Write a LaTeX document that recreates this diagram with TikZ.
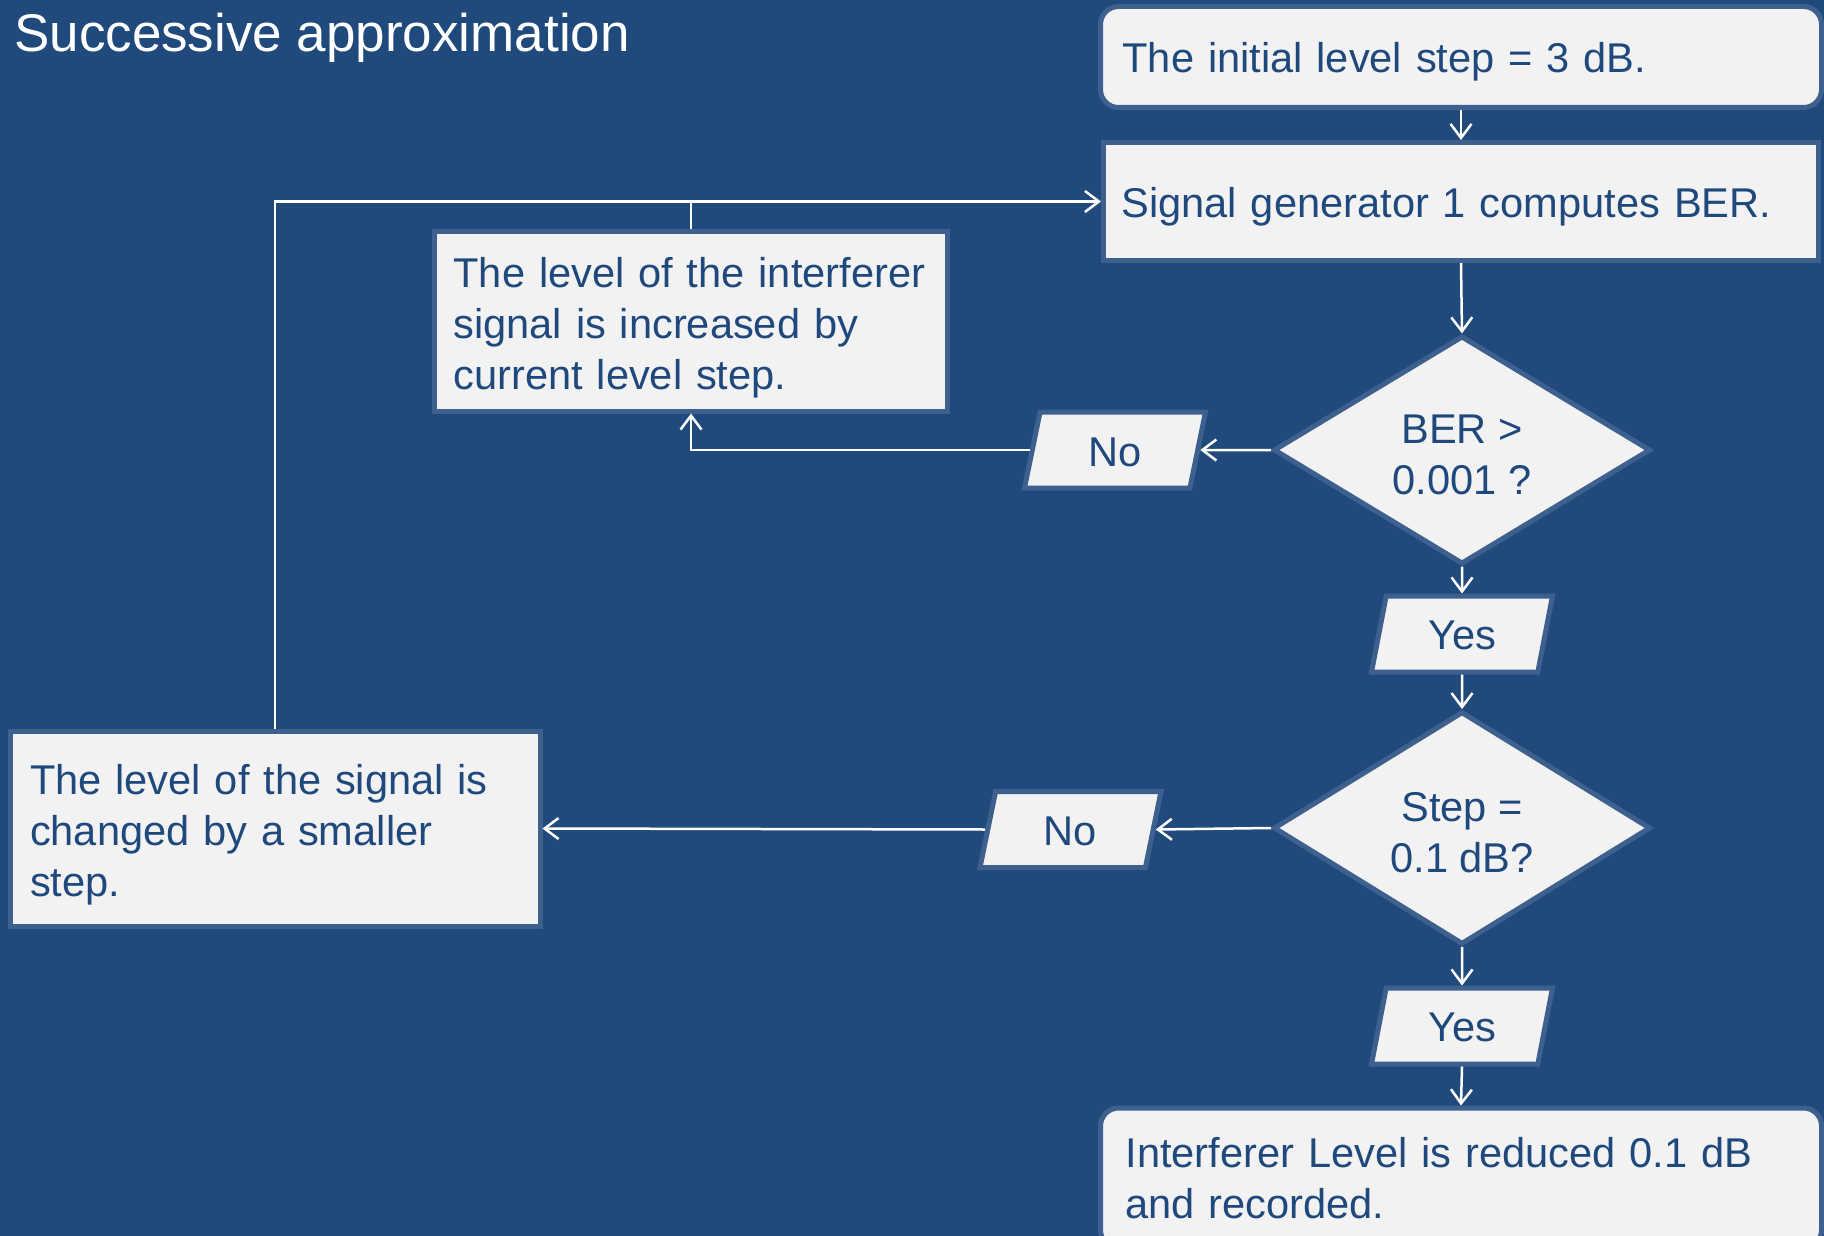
\documentclass[tikz,border=0pt]{standalone}
\usepackage{fontspec}
\setmainfont{Liberation Sans}
\usetikzlibrary{shapes.geometric,arrows.meta}
\definecolor{bgblue}{RGB}{32,74,124}
\definecolor{txtblue}{RGB}{31,73,125}
\definecolor{edgeblue}{RGB}{62,96,142}
\definecolor{boxfill}{RGB}{242,242,242}
\newcommand\toppad[1]{\rule{0pt}{#1}}
\begin{document}
\begin{tikzpicture}[x=1pt,y=-1pt,
  base/.style={draw=edgeblue, line width=5pt, fill=boxfill, text=txtblue, font=\fontsize{41.6}{51}\selectfont},
  procbox/.style={base, rectangle, align=left, inner ysep=0pt},
  roundbox/.style={procbox, rounded corners=18pt},
  decision/.style={base, diamond, align=center, inner sep=0pt, minimum width=377pt, minimum height=228pt},
  answer/.style={base, trapezium, trapezium left angle=65, trapezium right angle=115, trapezium stretches body, minimum width=181pt, minimum height=76pt, inner sep=0pt},
  conn/.style={draw=white, line width=2.5pt, -{Straight Barb[length=14pt,width=21pt]}},
  plainline/.style={draw=white, line width=2.5pt}]
\fill[bgblue] (0,0) rectangle (1824,1236);
\useasboundingbox (0,0) rectangle (1824,1236);

\node[anchor=base west, text=white, font=\fontsize{53}{60}\selectfont, inner sep=0pt] (title) at (14,52) {Successive approximation};

\node[roundbox, minimum width=721pt, minimum height=101pt, inner xsep=22pt, text width=677pt] (b1) at (1461,57) {\toppad{40pt}The initial level step = 3 dB.};
\node[procbox, minimum width=715pt, minimum height=118pt, inner xsep=18pt, text width=679pt] (b2) at (1461,201.5) {\toppad{40pt}Signal generator 1 computes BER.};
\node[decision] (d1) at (1462,450) {\toppad{38pt}BER >\\0.001 ?};
\node[answer] (no1) at (1115,450) {\toppad{33pt}No};
\node[procbox, minimum width=513pt, minimum height=180pt, inner xsep=19pt, text width=475pt] (b3) at (691,321) {\toppad{44pt}The level of the interferer\\signal is increased by\\current level step.};
\node[answer] (yes1) at (1462,634) {\toppad{31pt}Yes};
\node[decision] (d2) at (1462,828) {\toppad{38pt}Step =\\0.1 dB?};
\node[answer] (no2) at (1070.5,829.5) {\toppad{33pt}No};
\node[procbox, minimum width=530pt, minimum height=195pt, inner xsep=20pt, text width=490pt] (b4) at (275,828.5) {\toppad{42pt}The level of the signal is\\changed by a smaller\\step.};
\node[answer] (yes2) at (1462,1026) {\toppad{31pt}Yes};
\node[roundbox, minimum width=721pt, minimum height=140pt, inner xsep=25pt, text width=671pt] (b5) at (1461,1178) {\toppad{28pt}Interferer Level is reduced 0.1 dB\\and recorded.};

\draw[conn] (b1.south) -- (b2.north);
\draw[conn] (b2.south) -- (d1.north);
\draw[conn] (d1.west) -- (no1.east);
\draw[conn] (no1.west) -- (no1.west -| b3.south) -- (b3.south);
\draw[conn] (d1.south) -- (yes1.north);
\draw[conn] (yes1.south) -- (d2.north);
\draw[conn] (d2.west) -- (no2.east);
\draw[conn] (no2.west) -- (b4.east);
\draw[conn] (d2.south) -- (yes2.north);
\draw[conn] (yes2.south) -- (b5.north);
\draw[conn] (b4.north) |- (b2.west);
\draw[plainline] (b3.north) -- (b3.north |- b2.west);
\end{tikzpicture}
\end{document}
